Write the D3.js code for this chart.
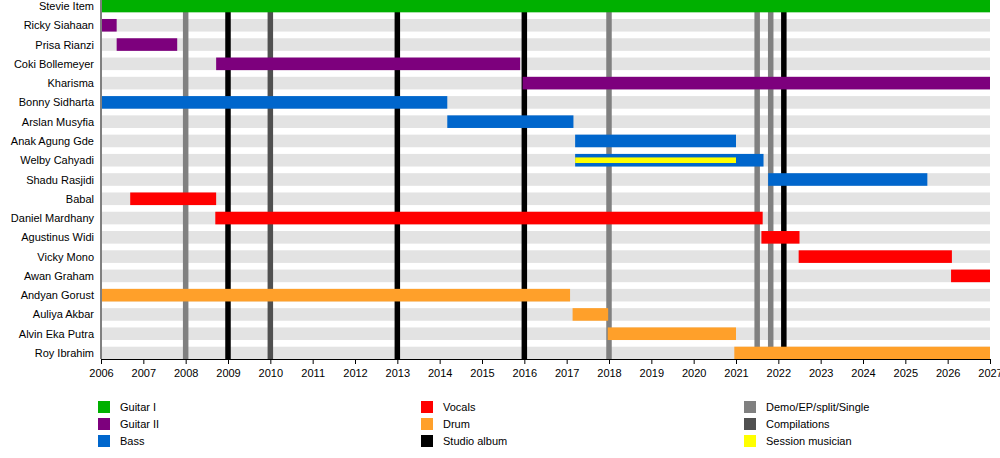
<!DOCTYPE html>
<html>
<head>
<meta charset="utf-8">
<script src="https://cdn.jsdelivr.net/npm/d3@7"></script>
<style>
  body { margin: 0; background: #fff; }
  svg { display: block; font-family: "Liberation Sans", Arial, sans-serif; }
</style>
</head>
<body>
<div class="chart"></div>
<script>
// band members, top to bottom
const members = ["Stevie Item", "Ricky Siahaan", "Prisa Rianzi", "Coki Bollemeyer", "Kharisma",
  "Bonny Sidharta", "Arslan Musyfia", "Anak Agung Gde", "Welby Cahyadi", "Shadu Rasjidi",
  "Babal", "Daniel Mardhany", "Agustinus Widi", "Vicky Mono", "Awan Graham",
  "Andyan Gorust", "Auliya Akbar", "Alvin Eka Putra", "Roy Ibrahim"];
const roles = ["Guitar I", "Guitar II", "Guitar II", "Guitar II", "Guitar II",
  "Bass", "Bass", "Bass", "Bass", "Bass",
  "Vocals", "Vocals", "Vocals", "Vocals", "Vocals",
  "Drum", "Drum", "Drum", "Drum"];
const startYears = [2006, 2006, 2006.37, 2008.72, 2015.96,
  2006, 2014.18, 2017.2, 2017.2, 2021.76,
  2006.69, 2008.7, 2021.6, 2022.48, 2026.08,
  2006, 2017.14, 2017.97, 2020.96];
const endYears = [2027, 2006.37, 2007.8, 2015.9, 2027,
  2014.18, 2017.16, 2021.0, 2021.65, 2025.52,
  2008.72, 2021.63, 2022.5, 2026.1, 2027,
  2017.08, 2017.98, 2021.0, 2027];

// session musician stint (drawn inside the bass bar)
const sessionMember = "Welby Cahyadi";
const sessionStart = 2017.2;
const sessionEnd = 2021.0;

// releases (vertical lines)
const releaseYears = [2008, 2009, 2010, 2013, 2016, 2018, 2021.5, 2021.82, 2022.13];
const releaseTypes = ["Demo/EP/split/Single", "Studio album", "Compilations", "Studio album", "Studio album",
  "Demo/EP/split/Single", "Demo/EP/split/Single", "Demo/EP/split/Single", "Studio album"];

const years = d3.range(2006, 2028);

const legendCols = [
  ["Guitar I", "Guitar II", "Bass"],
  ["Vocals", "Drum", "Studio album"],
  ["Demo/EP/split/Single", "Compilations", "Session musician"]
];

const colors = {
  "Guitar I": "#00b000",
  "Guitar II": "#7d007d",
  "Bass": "#0066cc",
  "Vocals": "#ff0000",
  "Drum": "#ffa02a",
  "Studio album": "#000000",
  "Demo/EP/split/Single": "#808080",
  "Compilations": "#505050",
  "Session musician": "#ffff00"
};

const WIDTH = 1000, HEIGHT = 458;
const svg = d3.select(".chart").append("svg").attr("width", WIDTH).attr("height", HEIGHT);

const x = d3.scaleLinear().domain([2006, 2027]).range([101, 990]);
const y = d3.scalePoint().domain(members).range([6, 353]);
const barH = 12.6;
const axisY = 359;

// light background stripes
svg.append("g").selectAll("rect")
  .data(members)
  .enter().append("rect")
  .attr("x", x(2006) + 1)
  .attr("y", d => y(d) - barH / 2)
  .attr("width", x(2027) - x(2006) - 1)
  .attr("height", barH)
  .attr("fill", "#e3e3e3");

// release lines
svg.append("g").selectAll("line")
  .data(releaseYears)
  .enter().append("line")
  .attr("x1", d => x(d)).attr("x2", d => x(d))
  .attr("y1", 0).attr("y2", axisY)
  .attr("stroke", (d, i) => colors[releaseTypes[i]])
  .attr("stroke-width", 5.5);

// member bars
svg.append("g").selectAll("rect")
  .data(members)
  .enter().append("rect")
  .attr("x", (d, i) => Math.max(x(startYears[i]), x(2006) + 1))
  .attr("y", d => y(d) - barH / 2)
  .attr("width", (d, i) => x(endYears[i]) - Math.max(x(startYears[i]), x(2006) + 1))
  .attr("height", barH)
  .attr("fill", (d, i) => colors[roles[i]]);

// session stripe
svg.append("rect")
  .attr("x", x(sessionStart))
  .attr("y", y(sessionMember) - 2.8)
  .attr("width", x(sessionEnd) - x(sessionStart))
  .attr("height", 5.6)
  .attr("fill", colors["Session musician"]);

// member names
svg.append("g").selectAll("text")
  .data(members)
  .enter().append("text")
  .attr("x", 94)
  .attr("y", d => y(d) + 4)
  .attr("text-anchor", "end")
  .attr("font-size", 11)
  .attr("fill", "#000")
  .text(d => d);

// left border
svg.append("line")
  .attr("x1", 101).attr("x2", 101)
  .attr("y1", 0).attr("y2", axisY)
  .attr("stroke", "#000").attr("stroke-width", 1);

// time axis
const axis = svg.append("g")
  .attr("transform", `translate(0,${axisY})`)
  .call(d3.axisBottom(x).tickValues(years).tickFormat(d3.format("d")).tickSizeOuter(0).tickSize(5).tickPadding(5.5));
axis.select(".domain").attr("stroke", "#000");
axis.selectAll(".tick line").attr("stroke", "#000");
axis.selectAll(".tick text")
  .attr("font-size", 11)
  .attr("font-family", "\"Liberation Sans\", Arial, sans-serif")
  .attr("fill", "#000");

// legend
const legendX = [98, 421, 744];
legendCols.forEach((col, ci) => {
  const g = svg.append("g");
  g.selectAll("rect")
    .data(col)
    .enter().append("rect")
    .attr("x", legendX[ci])
    .attr("y", (d, i) => 401 + i * 17)
    .attr("width", 12).attr("height", 12)
    .attr("fill", d => colors[d]);
  g.selectAll("text")
    .data(col)
    .enter().append("text")
    .attr("x", legendX[ci] + 22)
    .attr("y", (d, i) => 411 + i * 17)
    .attr("font-size", 11)
    .attr("fill", "#000")
    .text(d => d);
});
</script>
</body>
</html>
